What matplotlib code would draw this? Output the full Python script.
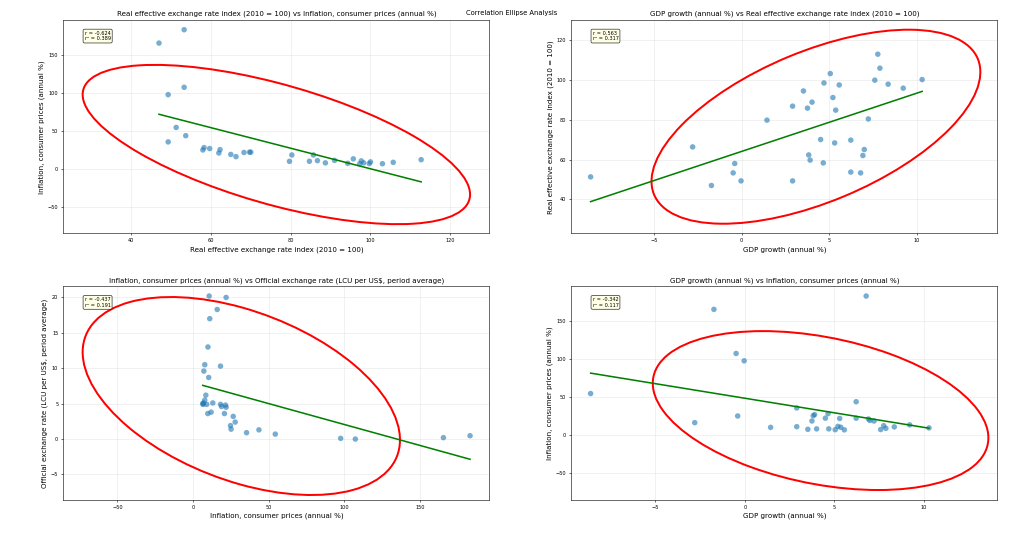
import numpy as np
import matplotlib
matplotlib.use("Agg")
import matplotlib.pyplot as plt
from matplotlib.patches import Ellipse

# uma linha por ano, na ordem do crescimento do PIB
gdp = [-8.62, -2.80, -1.73, -0.49, -0.40, -0.04, 1.44, 2.90, 2.90, 3.52,
       3.75, 3.82, 3.90, 4.01, 4.50, 4.65, 4.69, 5.05, 5.20, 5.30,
       5.36, 5.56, 6.22, 6.22, 6.78, 6.91, 6.99, 7.22, 7.59, 7.76,
       7.88, 8.35, 9.21, 10.29]
reer = [51.3, 66.3, 47.0, 53.3, 58.0, 49.3, 79.7, 86.7, 49.3, 94.3,
        85.7, 62.3, 59.7, 88.7, 70.0, 58.3, 98.3, 103.0, 91.0, 68.3,
        84.7, 97.3, 53.7, 69.7, 53.3, 62.0, 65.0, 80.3, 99.7, 112.7,
        105.7, 97.7, 95.7, 100.0]
inflacao = [54.3, 15.9, 165.4, 107.2, 24.7, 97.5, 9.7, 10.6, 35.3, 7.1,
            18.1, 25.1, 26.5, 7.7, 21.8, 27.8, 7.7, 6.6, 11.0, 21.4,
            9.8, 6.4, 43.5, 21.8, 183.0, 20.7, 18.8, 18.1, 6.8, 11.9,
            8.4, 10.3, 13.0, 9.0]
cambio = [0.7, 18.3, 0.2, 0.0, 1.9, 0.1, 3.6, 20.2, 0.9, 9.6,
          10.3, 1.4, 3.2, 5.5, 20.0, 2.4, 10.5, 4.9, 17.0, 4.8,
          13.0, 5.0, 1.3, 4.5, 0.47, 3.6, 4.6, 4.9, 5.1, 3.8,
          6.2, 8.7, 5.1, 4.9]

nomes = {
    'gdp': 'GDP growth (annual %)',
    'reer': 'Real effective exchange rate index (2010 = 100)',
    'infl': 'Inflation, consumer prices (annual %)',
    'cambio': r'Official exchange rate (LCU per US\$, period average)',
}
dados = {'gdp': gdp, 'reer': reer, 'infl': inflacao, 'cambio': cambio}

# pares (x, y) de cada painel e o r que aparece na caixinha
pares = [('reer', 'infl'), ('gdp', 'reer'), ('infl', 'cambio'), ('gdp', 'infl')]
r_valores = [-0.624, 0.563, -0.437, -0.342]


def elipse_confianca(x, y, ax, n_std):
    # elipse pelos autovalores/autovetores da covariancia
    cov = np.cov(x, y)
    vals, vecs = np.linalg.eigh(cov)
    ordem = vals.argsort()[::-1]
    vals = vals[ordem]
    vecs = vecs[:, ordem]
    angulo = np.degrees(np.arctan2(vecs[1, 0], vecs[0, 0]))
    largura, altura = 2 * n_std * np.sqrt(vals)
    elipse = Ellipse((np.mean(x), np.mean(y)), largura, altura, angle=angulo,
                     facecolor='none', edgecolor='red', linewidth=2.8, zorder=2)
    ax.add_patch(elipse)


# 95% para 2 graus de liberdade
n_std = np.sqrt(-2 * np.log(0.05))

fig, axs = plt.subplots(2, 2, figsize=(20, 10.43))
fig.subplots_adjust(left=0.0618, right=0.974, top=0.9625, bottom=0.0642,
                    wspace=0.192, hspace=0.248)

for ax, (cx, cy), r in zip(axs.flat, pares, r_valores):
    x = np.array(dados[cx], dtype=float)
    y = np.array(dados[cy], dtype=float)

    ax.scatter(x, y, s=60, alpha=0.6, color='tab:blue', edgecolors='none', zorder=3)
    elipse_confianca(x, y, ax, n_std)

    # reta de regressao
    a, b = np.polyfit(x, y, 1)
    xs = np.array([x.min(), x.max()])
    ax.plot(xs, a * xs + b, color='green', linewidth=2.2, zorder=4)

    ax.text(0.05, 0.95, f'r = {r:.3f}\nr² = {r**2:.3f}', transform=ax.transAxes,
            fontsize=7, va='top',
            bbox=dict(boxstyle='round', facecolor='lightyellow', edgecolor='black', alpha=0.8))

    ax.set_xlabel(nomes[cx], fontsize=10)
    ax.set_ylabel(nomes[cy], fontsize=10)
    ax.set_title(f'{nomes[cx]} vs {nomes[cy]}', fontsize=10)
    ax.tick_params(labelsize=7)
    ax.grid(True, alpha=0.3)

fig.suptitle('Correlation Ellipse Analysis', fontsize=9.5, y=0.982)
fig.savefig('out.png', dpi=51.2)
